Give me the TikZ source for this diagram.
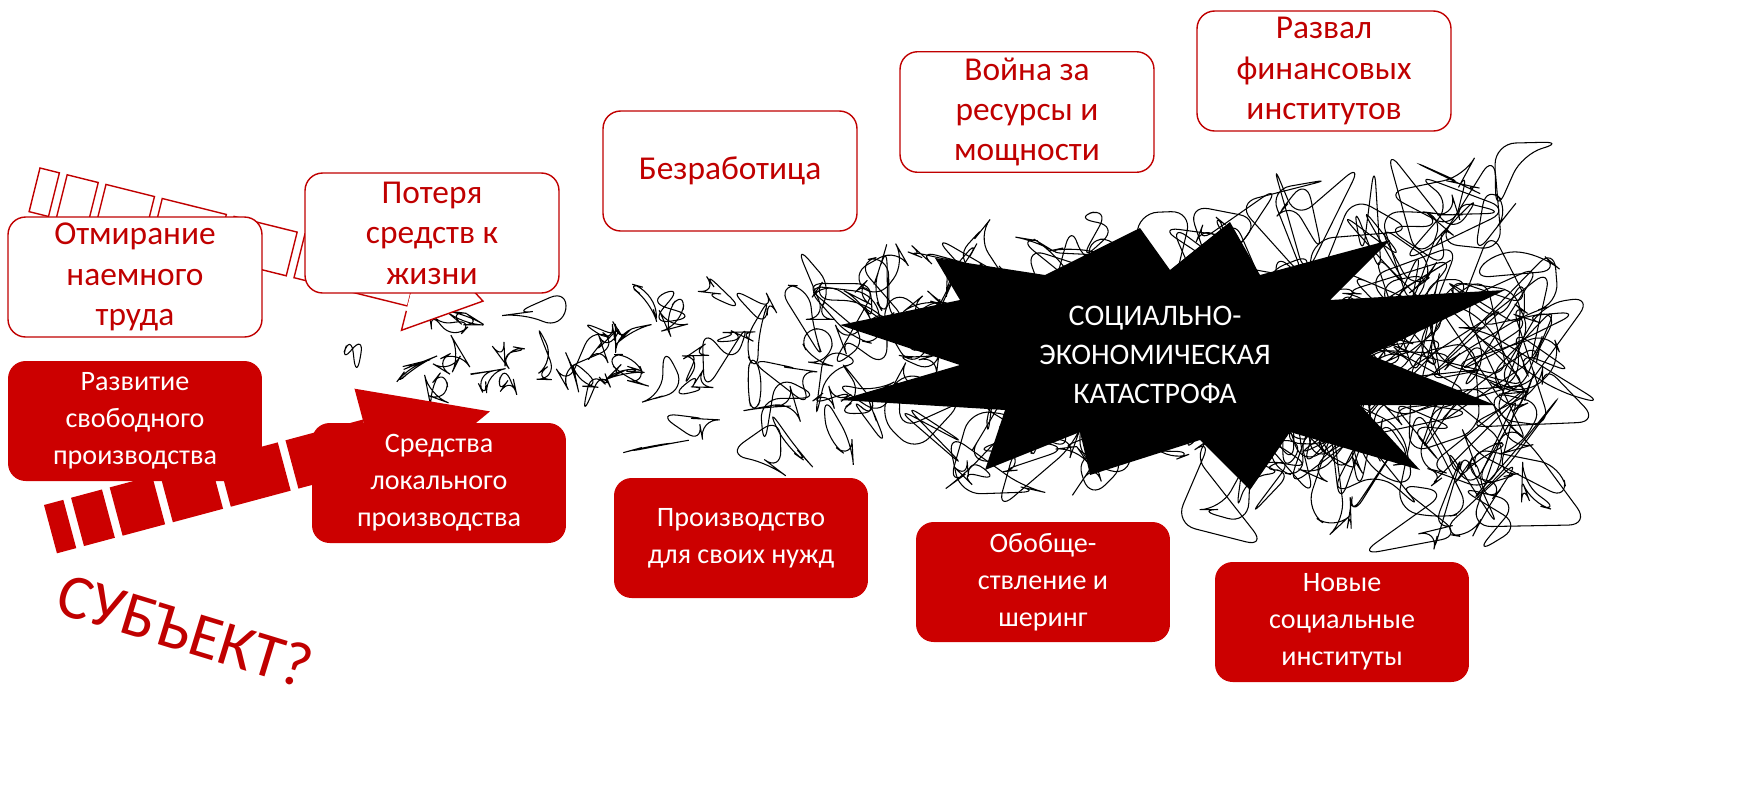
\documentclass[tikz,border=0pt]{standalone}
\usepackage{fontspec}
\setmainfont{Carlito}
\definecolor{dred}{HTML}{C00000}
\definecolor{fred}{HTML}{CC0000}
\begin{document}
\begin{tikzpicture}[x=0.02cm,y=-0.02cm,
 obox/.style={draw=dred,fill=white,rounded corners=10pt,line width=0.8pt,text=dred,align=center,font=\fontsize{19}{23}\selectfont,minimum width=5.08cm,minimum height=2.4cm},
 fbox/.style={fill=fred,rounded corners=10pt,text=white,align=center,font=\fontsize{16}{21}\selectfont,minimum width=5.08cm,minimum height=2.4cm},
 seg/.style={draw=dred,fill=white,line width=0.8pt}]
\useasboundingbox (0,0) rectangle (1753,809);
% scribble
\pgfmathsetseed{11}
\foreach \i in {1,...,260}{
 \pgfmathsetmacro\myu{rnd}
 \pgfmathsetmacro\mcx{320+1220*sqrt(\myu)}
 \pgfmathsetmacro\mhh{25+(\mcx-320)/1220*150}
 \pgfmathsetmacro\mcy{360+\mhh*rand}
 \pgfmathsetmacro\mr{18+0.3*\mhh}
 \pgfmathsetmacro\pax{\mcx+\mr*rand}\pgfmathsetmacro\pay{\mcy+\mr*rand}
 \pgfmathsetmacro\pbx{\mcx+\mr*rand}\pgfmathsetmacro\pby{\mcy+\mr*rand}
 \pgfmathsetmacro\pcx{\mcx+\mr*rand}\pgfmathsetmacro\pcy{\mcy+\mr*rand}
 \pgfmathsetmacro\pdx{\mcx+\mr*rand}\pgfmathsetmacro\pdy{\mcy+\mr*rand}
 \draw[line width=0.6pt,rounded corners=12pt] (\pax,\pay)--(\pbx,\pby)--(\pcx,\pcy)--(\pdx,\pdy)--cycle;
}
% starburst
\fill[black] (1140,228)--(1170,270)--(1230,222)--(1260,275)--(1390,240)--(1330,300)--(1505,290)--(1370,355)--(1495,405)--(1360,405)--(1420,470)--(1290,432)--(1250,490)--(1200,440)--(1090,475)--(1080,432)--(985,470)--(1005,410)--(840,400)--(960,365)--(840,325)--(960,300)--(935,258)--(1045,275)--cycle;
\node[text=white,align=center,font=\fontsize{17}{22}\selectfont] (cat) at (1155,355) {СОЦИАЛЬНО-\\ЭКОНОМИЧЕСКАЯ\\КАТАСТРОФА};
% top arrow
\begin{scope}[shift={(40,168)},rotate=-14]
 \foreach \a/\b in {0/20,28/60,68/118,126/192,200/265,273/390}{\draw[seg] (\a,0) rectangle (\b,45);}
 \draw[seg] (390,-5)--(390,-25)--(462,22)--(390,70)--(390,50);
\end{scope}
% bottom arrow
\begin{scope}[shift={(44,505)},rotate=15]
 \foreach \a/\b in {0/20,28/60,68/112,120/172,180/242,250/330}{\fill[fred] (\a,0) rectangle (\b,50);}
 \fill[fred] (330,0)--(330,-32)--(455,25)--(330,82)--(330,50)--cycle;
\end{scope}
\node[text=dred,rotate=-17,font=\fontsize{36}{40}\selectfont] (sub) at (185,630) {СУБЪЕКТ?};
% boxes
\node[obox] (a1) at (135,277) {Отмирание\\наемного\\труда};
\node[obox] (a2) at (432,233) {Потеря\\средств к\\жизни};
\node[obox] (a3) at (730,171) {Безработица};
\node[obox] (a4) at (1027,112) {Война за\\ресурсы и\\мощности};
\node[obox] (a5) at (1324,71) {Развал\\финансовых\\институтов};
\node[fbox] (b1) at (135,421) {Развитие\\свободного\\производства};
\node[fbox] (b2) at (439,483) {Средства\\локального\\производства};
\node[fbox] (b3) at (741,538) {Производство\\для своих нужд};
\node[fbox] (b4) at (1043,582) {Обобще-\\ствление  и\\шеринг};
\node[fbox] (b5) at (1342,622) {Новые\\социальные\\институты};
\end{tikzpicture}
\end{document}
